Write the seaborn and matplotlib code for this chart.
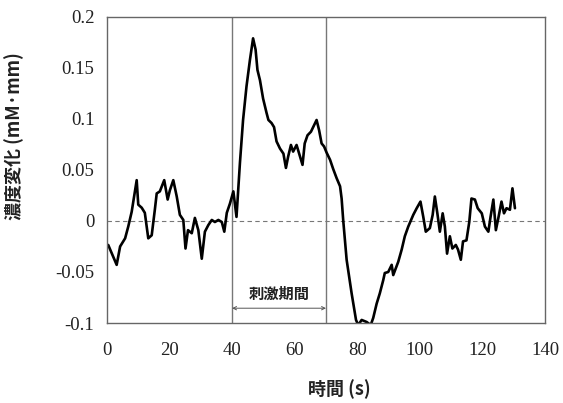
import matplotlib
matplotlib.use("Agg")
import matplotlib.pyplot as plt
from matplotlib import font_manager
from matplotlib.font_manager import FontProperties
import seaborn as sns
import pandas as pd

# time (s)
t = [0.4, 3.1, 4.2, 5.8, 6.8, 7.9, 9.5, 10.0, 11.1, 12.1, 13.2, 14.3, 15.3, 15.9, 16.9,
     18.3, 19.4, 20.1, 21.2, 22.3, 23.3, 24.4, 25.1, 25.9, 27.1, 28.1, 29.2, 30.3, 31.3,
     32.4, 33.5, 34.5, 35.6, 36.7, 37.5, 38.3, 39.3, 40.4, 41.4, 42.5, 43.5, 44.6, 45.7,
     46.7, 47.5, 48.1, 48.9, 49.9, 51.0, 51.6, 52.6, 53.4, 54.2, 55.3, 56.4, 57.2, 57.9,
     58.8, 59.5, 60.6, 61.7, 62.5, 63.2, 64.1, 65.2, 65.9, 67.0, 67.8, 68.6, 69.4, 70.2,
     71.3, 72.3, 73.4, 74.5, 75.0, 75.5, 76.6, 78.2, 79.6, 80.3, 81.4, 83.0, 84.3, 85.1,
     86.2, 87.2, 88.3, 88.8, 89.9, 91.0, 91.5, 93.1, 94.2, 95.2, 96.3, 97.9, 99.0, 100.2,
     101.1, 101.9, 103.2, 104.1, 104.8, 105.6, 106.4, 107.3, 108.0, 108.7, 109.6, 110.4,
     111.5, 112.2, 113.1, 113.8, 114.9, 115.8, 116.5, 117.6, 118.5, 119.8, 120.8, 121.9,
     122.6, 123.5, 124.3, 125.1, 126.1, 126.9, 127.7, 128.8, 129.6, 130.4]
# concentration change (mM·mm)
conc = [-0.0235, -0.043, -0.025, -0.017, -0.0055, 0.009, 0.040, 0.016, 0.013, 0.008, -0.017,
        -0.014, 0.011, 0.027, 0.029, 0.040, 0.021, 0.030, 0.040, 0.024, 0.006, 0.001, -0.027,
        -0.009, -0.012, 0.003, -0.009, -0.037, -0.0105, -0.004, 0.001, -0.001, 0.001, -0.001,
        -0.0105, 0.008, 0.017, 0.029, 0.004, 0.057, 0.099, 0.132, 0.158, 0.179, 0.168, 0.148,
        0.138, 0.120, 0.106, 0.099, 0.096, 0.092, 0.078, 0.071, 0.066, 0.052, 0.063, 0.0745,
        0.068, 0.0745, 0.063, 0.055, 0.076, 0.084, 0.0875, 0.092, 0.099, 0.089, 0.076, 0.073,
        0.067, 0.060, 0.051, 0.042, 0.034, 0.022, 0.001, -0.038, -0.071, -0.097, -0.102,
        -0.097, -0.099, -0.102, -0.095, -0.081, -0.071, -0.058, -0.051, -0.050, -0.043,
        -0.053, -0.040, -0.028, -0.015, -0.0055, 0.006, 0.0125, 0.019, 0.004, -0.0105,
        -0.007, 0.006, 0.024, 0.0075, -0.0105, 0.0075, -0.0055, -0.032, -0.015, -0.027,
        -0.0235, -0.028, -0.038, -0.020, -0.019, -0.001, 0.022, 0.021, 0.0125, 0.0075,
        -0.0055, -0.0105, 0.004, 0.021, -0.009, 0.003, 0.019, 0.0075, 0.0125, 0.011, 0.032,
        0.0125]

x_ticks = [0, 20, 40, 60, 80, 100, 120, 140]
x_tick_labels = ["0", "20", "40", "60", "80", "100", "120", "140"]
y_ticks = [-0.1, -0.05, 0, 0.05, 0.1, 0.15, 0.2]
y_tick_labels = ["-0.1", "-0.05", "0", "0.05", "0.1", "0.15", "0.2"]
stim_start, stim_end = 40, 70
x_label = "時間 (s)"
y_label = "濃度変化 (mM·mm)"
stim_label = "刺激期間"

sns.set_theme(style="white")
plt.rcParams['font.family'] = ['Liberation Serif', 'Noto Sans CJK JP', 'DejaVu Sans']

serif_path = font_manager.findfont(FontProperties(family="Liberation Serif"))
tick_fp = FontProperties(fname=serif_path, size=13.5)

df = pd.DataFrame({"t": t, "conc": conc})

fig = plt.figure(figsize=(5.63, 4.03), dpi=100)
ax = fig.add_axes([0.190, 0.1985, 0.778, 0.7595])

sns.lineplot(data=df, x="t", y="conc", ax=ax, color="black", linewidth=1.9,
             sort=False, estimator=None)

ax.axhline(0, color="#777777", linewidth=0.8, linestyle=(0, (4, 3)), zorder=1)
ax.axvline(stim_start, color="#777777", linewidth=1.0, zorder=1)
ax.axvline(stim_end, color="#777777", linewidth=1.0, zorder=1)

ax.annotate("", xy=(stim_start, -0.0855), xytext=(stim_end, -0.0855),
            arrowprops=dict(arrowstyle="<->", color="#555555", lw=0.7,
                            shrinkA=0, shrinkB=0, mutation_scale=6))
ax.text((stim_start + stim_end) / 2, -0.071, stim_label, ha="center", va="center",
        fontsize=11, fontweight="bold", family=['Noto Sans CJK JP'], color="#222222")

ax.set_xlim(0, 140)
ax.set_ylim(-0.1, 0.2)
ax.set_xticks(x_ticks)
ax.set_xticklabels(x_tick_labels)
ax.set_yticks(y_ticks)
ax.set_yticklabels(y_tick_labels)
ax.tick_params(axis="both", direction="in", length=4, width=0.8, colors="#555555",
               labelcolor="#222222")
ax.tick_params(axis="y", pad=9)
ax.tick_params(axis="x", pad=14)
for lbl in ax.get_xticklabels() + ax.get_yticklabels():
    lbl.set_fontproperties(tick_fp)

for s in ax.spines.values():
    s.set_color("#666666")
    s.set_linewidth(1.0)

ax.set_xlabel(x_label, fontsize=13, fontweight="bold", color="#222222",
              family=['Noto Sans CJK JP'])
ax.set_ylabel(y_label, fontsize=13, fontweight="bold", color="#222222",
              family=['Noto Sans CJK JP'])
ax.xaxis.set_label_coords((339.5 - 107) / 438, -0.185)
ax.yaxis.set_label_coords(-0.188, 0.61)

fig.savefig("out.png", dpi=100)
